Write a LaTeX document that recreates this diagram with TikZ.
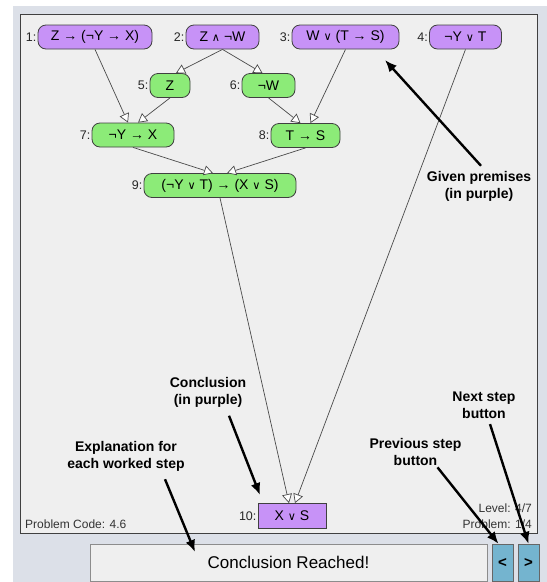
\documentclass[tikz,border=0pt]{standalone}
\usepackage{fontspec}
\setmainfont{Liberation Sans}
\newfontfamily\symfont{DejaVu Sans}[Scale=0.8]
\usetikzlibrary{arrows.meta}
\definecolor{premisepurple}{HTML}{C792F7}
\definecolor{derivedgreen}{HTML}{8CEB78}
\definecolor{panelgray}{HTML}{EFEFEF}
\definecolor{backblue}{HTML}{DCE0E8}
\definecolor{buttonblue}{HTML}{74B4CF}
\definecolor{edgegray}{HTML}{4A4A4A}
\newcommand{\lgand}{{\symfont\char"2227}}
\newcommand{\lgor}{{\symfont\char"2228}}
\tikzset{
  stepnode/.style={draw=black!75, line width=0.8pt, rounded corners=8pt, minimum height=24pt, inner xsep=2pt, inner ysep=0pt, font=\fontsize{14}{16}\selectfont},
  premise/.style={stepnode, fill=premisepurple},
  derived/.style={stepnode, fill=derivedgreen},
  conclnode/.style={stepnode, rounded corners=0pt, minimum height=25pt, fill=premisepurple},
  steplabel/.style={font=\fontsize{12.5}{14}\selectfont, inner sep=1pt, text=black!85},
  inference/.style={edgegray, line width=0.7pt, -{Triangle[length=9pt, width=10pt, fill=white]}},
  callout/.style={black, line width=2.4pt, -{Latex[length=12pt, width=10pt]}},
  note/.style={font=\bfseries\fontsize{14}{17}\selectfont, align=center, inner sep=0pt},
  infotext/.style={font=\fontsize{12}{14}\selectfont, inner sep=0pt, text=black!80},
  button/.style={draw=black!60, fill=buttonblue, minimum height=37pt, inner sep=0pt, font=\bfseries\fontsize{15}{17}\selectfont}
}
\begin{document}
\begin{tikzpicture}[x=1pt, y=-1pt]
  \useasboundingbox (0,0) rectangle (547,582);
  \fill[backblue] (13,6) rectangle (547,582);
  \draw[fill=panelgray, draw=black!75, line width=1pt] (20,14) rectangle (537,533);

  % premises
  \node[premise, minimum width=114pt, label={[steplabel]left:{1:}}] (n1) at (95,37) {Z → (¬Y → X)};
  \node[premise, minimum width=73pt, label={[steplabel]left:{2:}}] (n2) at (222.5,37) {Z \lgand{} ¬W};
  \node[premise, minimum width=107pt, label={[steplabel]left:{3:}}] (n3) at (345.5,37) {W \lgor{} (T → S)};
  \node[premise, minimum width=72pt, label={[steplabel]left:{4:}}] (n4) at (465.5,37) {¬Y \lgor{} T};
  % worked steps
  \node[derived, minimum width=40pt, label={[steplabel]left:{5:}}] (n5) at (170,85.5) {Z};
  \node[derived, minimum width=53pt, label={[steplabel]left:{6:}}] (n6) at (268.5,85.5) {¬W};
  \node[derived, minimum width=82pt, label={[steplabel]left:{7:}}] (n7) at (133,135) {¬Y → X};
  \node[derived, minimum width=69pt, label={[steplabel]left:{8:}}] (n8) at (305.5,135.5) {T → S};
  \node[derived, minimum width=152pt, label={[steplabel]left:{9:}}] (n9) at (220,185.5) {(¬Y \lgor{} T) → (X \lgor{} S)};
  \node[conclnode, minimum width=68pt, label={[steplabel]left:{10:}}] (n10) at (292,516) {X \lgor{} S};

  \draw[inference] (n1.south) -- ([xshift=-5pt]n7.north);
  \draw[inference] (n2.south) -- ([xshift=6pt]n5.north);
  \draw[inference] (n2.south) -- ([xshift=-6pt]n6.north);
  \draw[inference] (n5.south) -- ([xshift=5pt]n7.north);
  \draw[inference] (n6.south) -- ([xshift=-5pt]n8.north);
  \draw[inference] (n3.south) -- ([xshift=5pt]n8.north);
  \draw[inference] (n7.south) -- ([xshift=-7pt]n9.north);
  \draw[inference] (n8.south) -- ([xshift=7pt]n9.north);
  \draw[inference] (n9.south) -- ([xshift=-3pt]n10.north);
  \draw[inference] (n4.south) -- ([xshift=3pt]n10.north);

  \node[infotext, anchor=west] (code) at (25,524) {Problem Code: 4.6};
  \node[infotext, anchor=east] (level) at (532,508) {Level: 4/7};
  \node[infotext, anchor=east] (prob) at (532,524) {Problem: 1/4};

  % bottom bar
  \node[draw=black!45, line width=0.9pt, fill=panelgray, minimum width=397pt, minimum height=37pt, font=\fontsize{17}{20}\selectfont] (expl) at (288.5,562.5) {Conclusion Reached!};
  \node[button, minimum width=21pt] (prevbtn) at (502.5,562.5) {<};
  \node[button, minimum width=21pt] (nextbtn) at (528.5,562.5) {>};

  % callouts
  \node[note] (given) at (479,186) {Given premises\\(in purple)};
  \node[note] (concl) at (208,392.5) {Conclusion\\(in purple)};
  \node[note] (explain) at (126,456) {Explanation for\\each worked step};
  \node[note] (prevnote) at (415.5,451.5) {Previous step\\button};
  \node[note] (nextnote) at (484,405.5) {Next step\\button};
  \coordinate (givenTip) at (385,60);
  \coordinate (conclTip) at (260,495);
  \coordinate (explTip) at (195,552);
  \draw[callout] ([xshift=2pt, yshift=5pt]given.north) -- (givenTip);
  \draw[callout] ([xshift=21pt, yshift=-8pt]concl.south) -- (conclTip);
  \draw[callout] ([xshift=39pt, yshift=-8pt]explain.south) -- (explTip);
  \draw[callout] ([xshift=22pt, yshift=-2pt]prevnote.south) -- ([xshift=-4pt]prevbtn.north);
  \draw[callout] ([xshift=6pt, yshift=-5pt]nextnote.south) -- (nextbtn.north);
\end{tikzpicture}
\end{document}
